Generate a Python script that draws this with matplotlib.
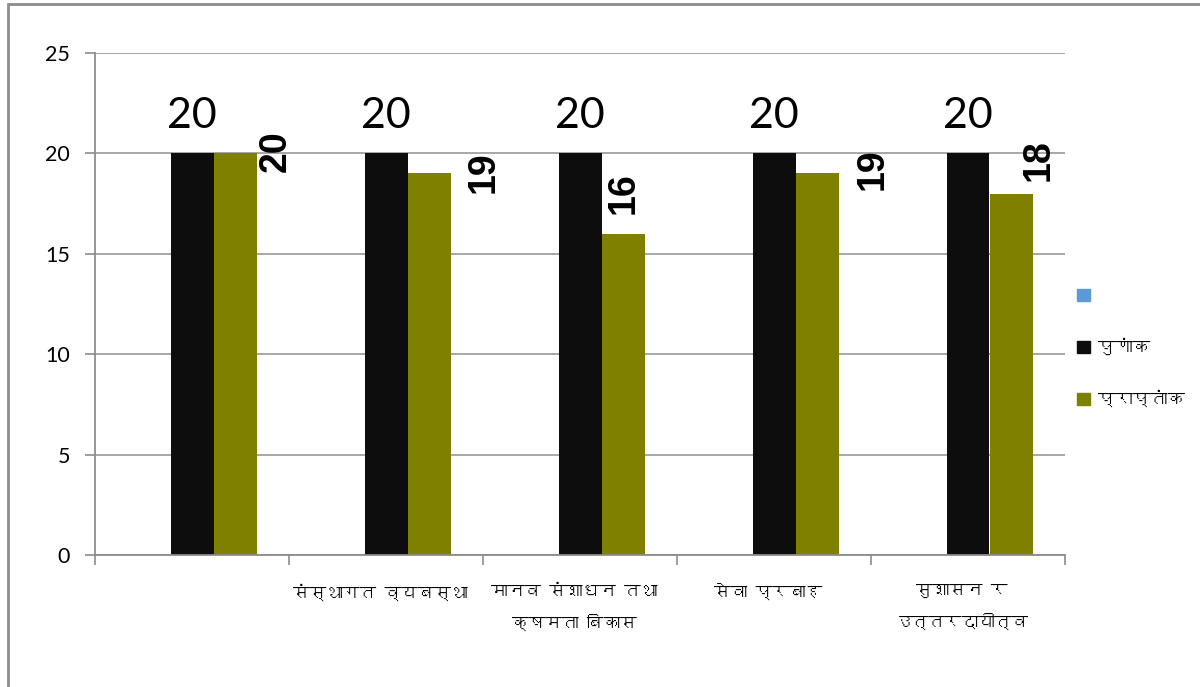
import numpy as np
import matplotlib
matplotlib.use("Agg")
import matplotlib.pyplot as plt
from matplotlib import font_manager
from matplotlib.patches import Patch, Rectangle

# ---------------- data ----------------
categories = ["", "संस्थागत व्यबस्था", "मानव संशाधन तथा\nक्षमता बिकास", "सेवा प्रबाह", "सुशासन र\nउत्तरदायीत्व"]
series_names = [" ", "पुणांक", "प्राप्तांक"]
blank_values = [0, 0, 0, 0, 0]
full_marks = [20, 20, 20, 20, 20]
obtained = [20, 19, 16, 19, 18]
y_ticks = [0, 5, 10, 15, 20, 25]

# label placement for rotated labels (offset from category centre, data y)
obt_label_dx = [0.43, 0.505, 0.227, 0.51, 0.366]
obt_label_y = [20.12, 19.07, 18.03, 19.22, 19.67]

# ---------------- fonts ----------------
def find_devanagari():
    found = []
    try:
        from fontTools.ttLib import TTFont
    except Exception:
        return found
    for f in font_manager.fontManager.ttflist:
        try:
            tt = TTFont(f.fname, fontNumber=0, lazy=True)
            cmap = tt.getBestCmap()
            if cmap and 0x0915 in cmap and 0x093E in cmap:
                found.append((f.name, f.weight))
        except Exception:
            pass
    return found

deva = find_devanagari()
deva_family = ([deva[0][0]] if deva else []) + ["DejaVu Sans"]
num_family = ["Lato", "DejaVu Sans"]

plt.rcParams["font.family"] = num_family

# ---------------- figure ----------------
W, H = 1200, 687
fig = plt.figure(figsize=(W / 100, H / 100), dpi=100)
fig.patches.append(Rectangle((7.5 / W, -0.05), 1.2, (H - 3.5) / H + 0.05,
                             transform=fig.transFigure, fill=False,
                             edgecolor="#8C8C8C", lw=2))

ax = fig.add_axes([95 / W, (H - 555) / H, (1065 - 95) / W, (555 - 53) / H])

x = np.arange(len(categories))
w = 43 / 194
c_blue, c_black, c_olive = "#5B9BD5", "#0D0D0D", "#808000"

ax.bar(x - w, blank_values, w, color=c_blue, linewidth=0)
ax.bar(x, full_marks, w, color=c_black, linewidth=0)
ax.bar(x + w, obtained, w, color=c_olive, linewidth=0)

# labels on black bars
for xi, v in zip(x, full_marks):
    ax.text(xi, v + 0.9, f"{v}", ha="center", va="bottom",
            fontsize=31, family=num_family, color="black")

# rotated labels on olive bars
for xi, v, dx, yy in zip(x, obtained, obt_label_dx, obt_label_y):
    ax.text(xi + dx, yy, f"{v}", ha="center", va="center", rotation=90,
            fontsize=27, fontweight="bold", family=["Liberation Sans", "DejaVu Sans"],
            color="black")

ax.set_xlim(-0.5, len(categories) - 0.5)
ax.set_ylim(0, 25)
ax.set_yticks(y_ticks)
ax.set_yticklabels([str(t) for t in y_ticks], fontsize=15.5, family=num_family)

ax.set_xticks(x - 0.03)
ax.set_xticklabels(categories, fontsize=12, fontweight="bold", family=deva_family,
                   linespacing=2.0, va="top")
ax.set_xticks(np.arange(len(categories) + 1) - 0.5, minor=True)
ax.tick_params(axis="x", which="major", length=0, pad=21)
ax.tick_params(axis="x", which="minor", length=7, width=1.2, color="#8C8C8C", direction="out")
ax.tick_params(axis="y", length=7, width=1.2, color="#8C8C8C", pad=11)

ax.grid(axis="y", color="#A0A0A0", linewidth=1.3)
ax.set_axisbelow(True)
for s in ["top", "right"]:
    ax.spines[s].set_visible(False)
for s in ["left", "bottom"]:
    ax.spines[s].set_color("#8C8C8C")
    ax.spines[s].set_linewidth(1.3)

handles = [Patch(color=c_blue), Patch(color=c_black), Patch(color=c_olive)]
fig.legend(handles, series_names, loc="center left",
           bbox_to_anchor=(1077 / W, (H - 348) / H), frameon=False,
           prop={"family": deva_family, "size": 12.5, "weight": "bold"},
           handlelength=0.75, handleheight=0.75, handletextpad=0.45,
           labelspacing=2.0, borderpad=0, borderaxespad=0)

fig.savefig("out.png", dpi=100)
